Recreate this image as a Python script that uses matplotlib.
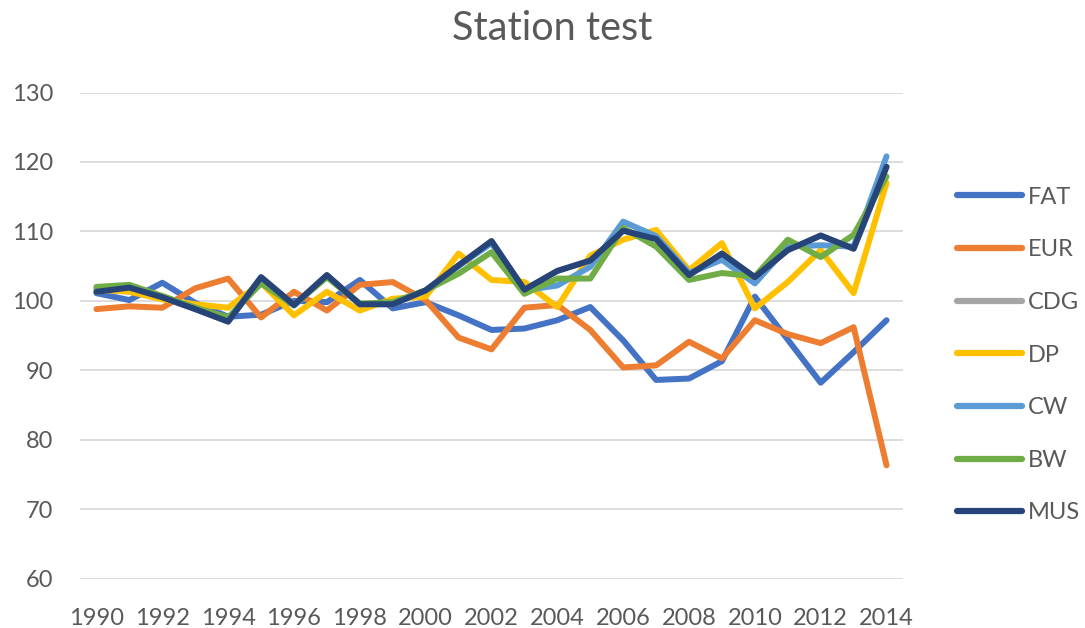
import numpy as np
import matplotlib
matplotlib.use("Agg")
import matplotlib.pyplot as plt

# 数据：每年数值
years = list(range(1990, 2015))
series_names = ["FAT", "EUR", "CDG", "DP", "CW", "BW", "MUS"]

fat = [101.1, 100.1, 102.6, 99.7, 97.7, 98.0, 100.0, 99.8, 103.0, 98.9, 99.8, 97.9, 95.8,
       96.0, 97.2, 99.1, 94.3, 88.6, 88.8, 91.3, 100.6, 94.4, 88.2, 92.6, 97.2]
eur = [98.8, 99.2, 99.0, 101.8, 103.2, 97.6, 101.3, 98.6, 102.3, 102.7, 100.1, 94.7, 93.0,
       99.0, 99.4, 95.8, 90.4, 90.7, 94.1, 91.7, 97.2, 95.2, 93.9, 96.2, 76.3]
cdg = [101.3, 101.9, 100.5, 98.8, 97.0, 103.4, 99.4, 103.7, 99.5, 99.5, 101.5, 105.1, 108.6,
       101.6, 104.3, 105.8, 110.1, 108.9, 103.7, 106.8, 103.4, 107.3, 109.4, 107.5, 119.3]
dp = [101.6, 101.3, 100.2, 99.5, 99.0, 102.6, 97.9, 101.3, 98.6, 100.3, 100.6, 106.8, 103.0,
      102.7, 99.1, 106.5, 108.8, 110.2, 104.4, 108.3, 98.9, 102.7, 107.3, 101.1, 117.0]
cw = [101.8, 102.0, 100.6, 99.0, 97.3, 103.2, 99.3, 103.6, 99.5, 99.6, 101.5, 105.0, 108.3,
      101.5, 102.2, 104.9, 111.4, 109.3, 104.0, 105.9, 102.5, 107.8, 108.0, 107.8, 120.8]
bw = [102.0, 102.3, 100.7, 99.0, 97.6, 102.5, 99.4, 103.4, 99.6, 99.8, 101.5, 103.9, 107.0,
      101.0, 103.2, 103.2, 110.5, 107.8, 103.0, 104.0, 103.5, 108.8, 106.3, 109.5, 117.9]
mus = [101.3, 101.9, 100.5, 98.8, 97.0, 103.4, 99.4, 103.7, 99.5, 99.5, 101.5, 105.1, 108.6,
       101.6, 104.3, 105.8, 110.1, 108.9, 103.7, 106.8, 103.4, 107.3, 109.4, 107.5, 119.3]

colors = ["#4472C4", "#ED7D31", "#A5A5A5", "#FFC000", "#5B9BD5", "#70AD47", "#264478"]
yticks = [60, 70, 80, 90, 100, 110, 120, 130]
xticks = list(range(1990, 2015, 2))

plt.rcParams["font.family"] = ["Lato", "DejaVu Sans"]
txt = "#595959"

fig = plt.figure(figsize=(10.85, 6.28), dpi=100)
ax = fig.add_axes([80 / 1085, 1 - 578.5 / 628, 823 / 1085, 486 / 628])

for name, vals, col in zip(series_names, [fat, eur, cdg, dp, cw, bw, mus], colors):
    ax.plot(years, vals, color=col, lw=4.3, label=name,
            solid_joinstyle="round", solid_capstyle="round", zorder=3)

ax.set_xlim(1989.5, 2014.5)
ax.set_ylim(60, 130)
ax.set_yticks(yticks)
ax.set_xticks(xticks)
ax.grid(axis="y", color="#D9D9D9", lw=1.3, zorder=0)
for s in ax.spines.values():
    s.set_visible(False)
ax.tick_params(axis="both", length=0, labelsize=17, labelcolor=txt)
ax.tick_params(axis="y", pad=19.5)
ax.tick_params(axis="x", pad=21)

fig.text(552 / 1085, 1 - 28 / 628, "Station test", ha="center", va="center",
         fontsize=28.5, color=txt)

leg = ax.legend(loc="center left", bbox_to_anchor=(957 / 1085, 1 - 355 / 628),
                bbox_transform=fig.transFigure, frameon=False, fontsize=17,
                handlelength=2.75, handletextpad=0.25, labelspacing=1.34,
                borderpad=0, borderaxespad=0)
for t in leg.get_texts():
    t.set_color(txt)
for h in leg.get_lines():
    h.set_linewidth(4.5)

fig.savefig("out.png", dpi=100)
